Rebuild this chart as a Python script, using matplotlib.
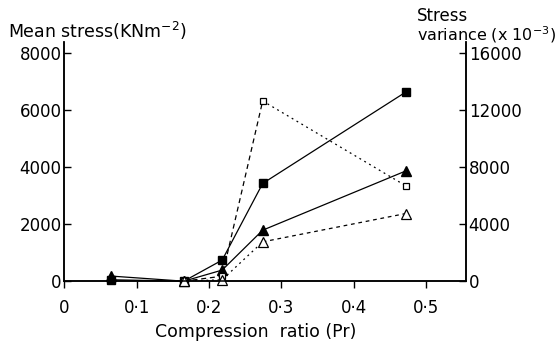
import numpy as np
import matplotlib.pyplot as plt

# compression ratio (Pr)
pr = [0.064, 0.165, 0.218, 0.274, 0.472]
mean_sq = [50, 0, 740, 3430, 6640]      # mean stress, filled squares
mean_tri = [180, 0, 390, 1790, 3870]    # mean stress, filled triangles

pr_var = [0.165, 0.218, 0.274, 0.472]
var_sq = [0, 350, 12650, 6690]          # stress variance, open squares
var_tri = [0, 100, 2760, 4750]          # stress variance, open triangles

xticks = [0, 0.1, 0.2, 0.3, 0.4, 0.5]
xticklabels = ['0', '0·1', '0·2', '0·3', '0·4', '0·5']
left_ticks = [0, 2000, 4000, 6000, 8000]
right_ticks = [0, 4000, 8000, 12000, 16000]

plt.rcParams['font.family'] = ['DejaVu Sans']
fig = plt.figure(figsize=(5.56, 3.48), dpi=100)
ax = fig.add_axes([0.116, 0.192, 0.722, 0.687])
ax2 = ax.twinx()

ax.plot(pr, mean_sq, '-', color='black', lw=0.9, marker='s', ms=6, mfc='black', mec='black', clip_on=False)
ax.plot(pr, mean_tri, '-', color='black', lw=0.9, marker='^', ms=7, mfc='black', mec='black', clip_on=False)

# variance: segments drawn with different dash styles
ax2.plot(pr_var[:3], var_sq[:3], color='black', lw=0.9, ls=(0, (4, 3)))
ax2.plot(pr_var[2:], var_sq[2:], color='black', lw=0.9, ls=(0, (1.5, 3)))
ax2.plot(pr_var, var_sq, ls='none', marker='s', ms=5, mfc='white', mec='black', mew=0.9, clip_on=False)
ax2.plot(pr_var[:3], var_tri[:3], color='black', lw=0.9, ls=(0, (1.5, 3)))
ax2.plot(pr_var[2:], var_tri[2:], color='black', lw=0.9, ls=(0, (3, 3)))
ax2.plot(pr_var, var_tri, ls='none', marker='^', ms=7, mfc='white', mec='black', mew=0.9, clip_on=False)

ax.set_xlim(0, 0.555)
ax.set_ylim(0, 8390)
ax2.set_ylim(0, 16780)

ax.set_xticks(xticks)
ax.set_xticklabels(xticklabels)
ax.set_yticks(left_ticks)
ax2.set_yticks(right_ticks)

for a in (ax, ax2):
    a.spines['top'].set_visible(False)
    for s in a.spines.values():
        s.set_linewidth(1.1)
ax.tick_params(axis='y', direction='in', length=5, width=1, labelsize=12, pad=2)
ax.tick_params(axis='x', direction='out', length=5, width=1, labelsize=12, pad=8)
ax2.tick_params(axis='y', direction='in', length=5, width=1, labelsize=12, pad=2)

fig.text(0.015, 0.91, 'Mean stress(KNm$^{\\mathregular{-2}}$)', fontsize=12.5, ha='left', va='center')
fig.text(0.75, 0.953, 'Stress', fontsize=12, ha='left', va='center')
fig.text(0.75, 0.9, 'variance (x 10$^{\\mathregular{-3}}$)', fontsize=11.5, ha='left', va='center')
fig.text(0.46, 0.045, 'Compression  ratio (Pr)', fontsize=12.5, ha='center', va='center')

fig.savefig('out.png', dpi=100)
